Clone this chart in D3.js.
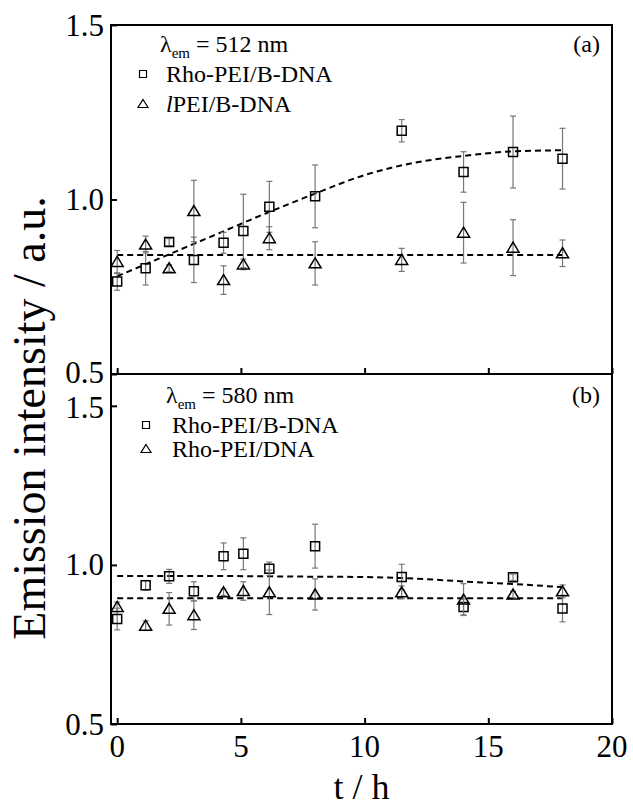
<!DOCTYPE html>
<html>
<head>
<meta charset="utf-8">
<script src="https://cdn.jsdelivr.net/npm/d3@7"></script>
<style>
  body { margin: 0; background: #fff; }
  text { font-family: "Liberation Serif", "DejaVu Serif", serif; fill: #000; }
</style>
</head>
<body>
<div id="chart"></div>
<script>
// time points (h)
var hours = [0, 1.15, 2.1, 3.1, 4.3, 5.1, 6.15, 8, 11.5, 14, 16, 18];

// panel (a) lambda_em = 512 nm
var aRhoVal = [0.765, 0.803, 0.878, 0.827, 0.876, 0.91, 0.979, 1.009, 1.197, 1.079, 1.136, 1.117];
var aRhoErr = [0.025, 0.048, 0.01, 0.065, 0.03, 0.105, 0.073, 0.09, 0.032, 0.058, 0.103, 0.087];
var aPeiVal = [0.821, 0.871, 0.803, 0.967, 0.769, 0.814, 0.889, 0.817, 0.827, 0.905, 0.862, 0.846];
var aPeiErr = [0.033, 0.024, 0.01, 0.088, 0.041, 0.015, 0.033, 0.062, 0.033, 0.087, 0.08, 0.038];

// panel (b) lambda_em = 580 nm
var bRhoVal = [0.830, 0.936, 0.964, 0.917, 1.027, 1.035, 0.988, 1.059, 0.962, 0.868, 0.961, 0.863];
var bRhoErr = [0.034, 0.015, 0.022, 0.03, 0.042, 0.05, 0.021, 0.069, 0.04, 0.025, 0.01, 0.042];
var bDnaVal = [0.868, 0.809, 0.862, 0.842, 0.914, 0.918, 0.914, 0.907, 0.914, 0.891, 0.907, 0.917];
var bDnaErr = [0.015, 0.015, 0.051, 0.045, 0.01, 0.029, 0.07, 0.049, 0.02, 0.05, 0.01, 0.02];

// dashed fit lines
var aFitT = [0, 2, 4, 6, 8, 10, 12, 14, 16, 18];
var aFitRho = [0.78, 0.84, 0.90, 0.96, 1.017, 1.07, 1.105, 1.125, 1.138, 1.141];
var aFitPeiT = [0, 18];
var aFitPei = [0.841, 0.841];
var bFitT = [0, 4, 8, 10, 12, 14, 16, 18];
var bFitRho = [0.965, 0.965, 0.963, 0.962, 0.957, 0.948, 0.94, 0.93];
var bFitDnaT = [0, 18];
var bFitDna = [0.895, 0.895];

var xTicks = [0, 5, 10, 15, 20];
var yTicks = [0.5, 1.0, 1.5];

var W = 633, H = 808;
var left = 111, right = 612;

var svg = d3.select("#chart").append("svg")
  .attr("width", W).attr("height", H);

var x = d3.scaleLinear().domain([-0.25, 20]).range([left, right]);

function zip(xs, ys, es) {
  return xs.map(function(t, i) { return {t: t, v: ys[i], e: es ? es[i] : 0}; });
}

function panel(top, bottom, yMax, cfg) {
  var y = d3.scaleLinear().domain([0.5, yMax]).range([bottom, top]);
  var g = svg.append("g");

  // dashed fits
  var line = d3.line().x(function(d) { return x(d.t); }).y(function(d) { return y(d.v); })
    .curve(d3.curveMonotoneX);
  cfg.fits.forEach(function(f) {
    g.append("path").datum(zip(f[0], f[1]))
      .attr("d", line).attr("fill", "none")
      .attr("stroke", "#000").attr("stroke-width", 2)
      .attr("stroke-dasharray", "6,4");
  });

  // error bars + markers
  cfg.series.forEach(function(s) {
    var pts = zip(hours, s.val, s.err);
    var eb = g.append("g").attr("stroke", "#777").attr("stroke-width", 1.2);
    pts.forEach(function(d) {
      var cx = x(d.t);
      eb.append("line").attr("x1", cx).attr("x2", cx).attr("y1", y(d.v - d.e)).attr("y2", y(d.v + d.e));
      eb.append("line").attr("x1", cx - 3).attr("x2", cx + 3).attr("y1", y(d.v - d.e)).attr("y2", y(d.v - d.e));
      eb.append("line").attr("x1", cx - 3).attr("x2", cx + 3).attr("y1", y(d.v + d.e)).attr("y2", y(d.v + d.e));
    });
    g.selectAll(null).data(pts).join("path")
      .attr("d", s.shape === "sq" ? "M-4.5,-4.5H4.5V4.5H-4.5Z" : "M0,-5.5L6,4.5H-6Z")
      .attr("transform", function(d) { return "translate(" + x(d.t) + "," + y(d.v) + ")"; })
      .attr("fill", "none").attr("stroke", "#000").attr("stroke-width", 1.5);
  });

  // frame
  g.append("rect").attr("x", left).attr("y", top)
    .attr("width", right - left).attr("height", bottom - top)
    .attr("fill", "none").attr("stroke", "#000").attr("stroke-width", 2);

  // inward ticks
  var yAx = g.append("g").attr("transform", "translate(" + left + ",0)")
    .call(d3.axisRight(y).tickValues(yTicks).tickSize(6).tickFormat(""));
  yAx.select(".domain").remove();
  yAx.selectAll("line").attr("stroke-width", 2);
  var xAx = g.append("g").attr("transform", "translate(0," + bottom + ")")
    .call(d3.axisTop(x).tickValues(xTicks).tickSize(6).tickFormat(""));
  xAx.select(".domain").remove();
  xAx.selectAll("line").attr("stroke-width", 2);

  // y tick labels (the stacked 0.5 / 1.5 at the panel joint sit a little apart)
  g.selectAll(null).data(yTicks).join("text")
    .attr("x", left - 7).attr("y", function(d) { return y(d) + (cfg.nudge[d] || 0); })
    .attr("dy", "0.34em").attr("text-anchor", "end")
    .style("font-size", "31px")
    .text(function(d) { return d.toFixed(1); });

  // legend
  var lx = cfg.legX;
  var t0 = g.append("text").attr("x", lx).attr("y", cfg.legY[0]).style("font-size", "24px");
  t0.append("tspan").text("\u03bb");
  t0.append("tspan").attr("dy", 6).style("font-size", "15px").text("em");
  t0.append("tspan").attr("dy", -6).text(" = " + cfg.lambda + " nm");

  cfg.series.forEach(function(s, i) {
    var ly = cfg.legY[i + 1];
    g.append("path")
      .attr("d", s.shape === "sq" ? "M-3.5,-3.5H3.5V3.5H-3.5Z" : "M0,-4.5L5,3.5H-5Z")
      .attr("transform", "translate(" + cfg.markX + "," + (ly - 8) + ")")
      .attr("fill", "none").attr("stroke", "#000").attr("stroke-width", 1.2);
    var t = g.append("text").attr("x", lx + 6).attr("y", ly).style("font-size", "24px");
    if (s.italicL) {
      t.append("tspan").style("font-style", "italic").text("l");
      t.append("tspan").text(s.name.slice(1));
    } else {
      t.text(s.name);
    }
  });

  g.append("text").attr("x", 600).attr("y", cfg.legY[0])
    .attr("text-anchor", "end").style("font-size", "24px").text(cfg.tag);

  return y;
}

panel(25, 374, 1.5, {
  lambda: 512, tag: "(a)", legX: 160, markX: 143, legY: [52, 82, 112],
  nudge: {0.5: -2},
  series: [
    {name: "Rho-PEI/B-DNA", val: aRhoVal, err: aRhoErr, shape: "sq"},
    {name: "lPEI/B-DNA", val: aPeiVal, err: aPeiErr, shape: "tri", italicL: true}
  ],
  fits: [[aFitT, aFitRho], [aFitPeiT, aFitPei]]
});

panel(374, 724, 1.6, {
  lambda: 580, tag: "(b)", legX: 166, markX: 146, legY: [403, 433, 457],
  nudge: {1.5: 2},
  series: [
    {name: "Rho-PEI/B-DNA", val: bRhoVal, err: bRhoErr, shape: "sq"},
    {name: "Rho-PEI/DNA", val: bDnaVal, err: bDnaErr, shape: "tri"}
  ],
  fits: [[bFitT, bFitRho], [bFitDnaT, bFitDna]]
});

// x tick labels
svg.selectAll(null).data(xTicks).join("text")
  .attr("x", function(d) { return x(d); }).attr("y", 757)
  .attr("text-anchor", "middle").style("font-size", "31px")
  .text(function(d) { return d; });

// axis titles
svg.append("text").attr("x", (left + right) / 2).attr("y", 799)
  .attr("text-anchor", "middle").style("font-size", "36px").text("t / h");

svg.append("text")
  .attr("transform", "translate(45," + 418 + ") rotate(-90)")
  .attr("text-anchor", "middle").style("font-size", "46px")
  .text("Emission intensity / a.u.");
</script>
</body>
</html>
